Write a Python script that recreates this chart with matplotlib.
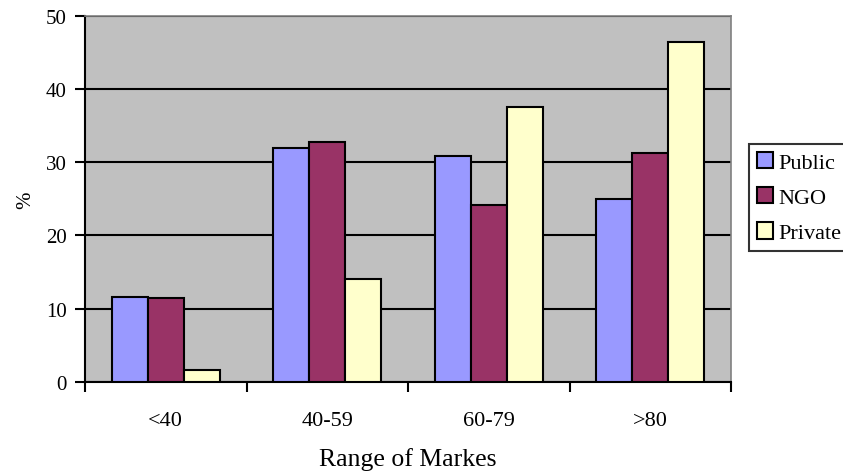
import numpy as np
import matplotlib.pyplot as plt
from matplotlib.patches import Patch

plt.rcParams['font.family'] = ['Liberation Serif', 'DejaVu Serif']

# Data
categories = ['<40', '40-59', '60-79', '>80']
public = [11.6, 32.0, 30.9, 25.0]
ngo = [11.5, 32.7, 24.1, 31.3]
private = [1.6, 14.1, 37.6, 46.4]

series_names = ['Public', 'NGO', 'Private']
colors = ['#9999FF', '#993366', '#FFFFCC']

fig = plt.figure(figsize=(8.43, 4.77), dpi=100)
ax = fig.add_axes([85 / 843, 1 - 383 / 477, 646 / 843, (383 - 16.7) / 477])
ax.set_facecolor('#C0C0C0')

x = np.arange(len(categories))
w = 1 / 4.5
for i, (vals, c) in enumerate(zip([public, ngo, private], colors)):
    ax.bar(x + (i - 1) * w, vals, width=w, color=c, edgecolor='black',
           linewidth=1.5, zorder=3)

ax.set_xlim(-0.5, len(categories) - 0.5)
ax.set_ylim(0, 50)
ax.set_yticks(range(0, 51, 10))
ax.yaxis.grid(True, color='black', linewidth=1.5, zorder=1)
ax.set_axisbelow(True)

# category labels between boundary ticks
ax.set_xticks(np.arange(-0.5, len(categories), 1))
ax.set_xticklabels([])
ax.set_xticks(x, minor=True)
ax.set_xticklabels(categories, minor=True, fontsize=16)
ax.tick_params(axis='x', which='minor', length=0, pad=21)
ax.tick_params(axis='x', which='major', length=7, width=1.5, direction='out')
ax.tick_params(axis='y', length=7, width=1.5, direction='out', labelsize=15, pad=6)

for s in ['left', 'bottom']:
    ax.spines[s].set_color('black')
    ax.spines[s].set_linewidth(1.5)
for s in ['top', 'right']:
    ax.spines[s].set_color('#808080')
    ax.spines[s].set_linewidth(1.2)

ax.set_xlabel('Range of Markes', fontsize=18.5, labelpad=12)
ax.set_ylabel('%', fontsize=15, labelpad=8)

handles = [Patch(facecolor=c, edgecolor='black', linewidth=1.5) for c in colors]
leg = fig.legend(handles, series_names, loc='upper left',
                 bbox_to_anchor=(749 / 843, 1 - 145 / 477), fontsize=16,
                 frameon=True, fancybox=False, edgecolor='black',
                 handlelength=0.75, handleheight=0.75, handletextpad=0.2,
                 labelspacing=0.65, borderpad=0.35, borderaxespad=0)
leg.get_frame().set_linewidth(1.5)

plt.savefig('out.png', dpi=100)
